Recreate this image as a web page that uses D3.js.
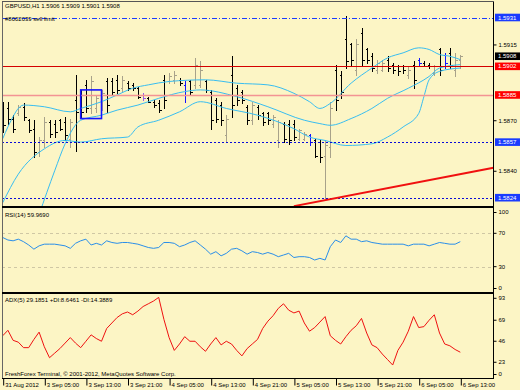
<!DOCTYPE html>
<html>
<head>
<meta charset="utf-8">
<script src="https://cdn.jsdelivr.net/npm/d3@7"></script>
<style>
  body { margin: 0; background: #fcf5c5; }
  svg text { font-family: "Liberation Sans", Arial, sans-serif; font-size: 6px; fill: #000; }
</style>
</head>
<body>
<svg id="chart" width="520" height="390"></svg>
<script>
// GBPUSD H1, one entry per hourly bar: 31 Aug 21:00 .. 6 Sep 13:00
const opens = [
  1.5877,1.5877,1.5871,1.5874,1.5878,1.5870,1.5865,1.5851,1.5858,1.5869,
  1.5868,1.5870,1.5869,1.5859,1.5882,1.5885,1.5891,1.5877,1.5877,1.5879,
  1.5893,1.5893,1.5894,1.5889,1.5892,1.5891,1.5889,1.5885,1.5883,1.5881,
  1.5880,1.5894,1.5893,1.5894,1.5894,1.5891,1.5893,1.5891,1.5891,1.5893,
  1.5887,1.5882,1.5879,1.5861,1.5897,1.5889,1.5887,1.5878,1.5870,1.5878,
  1.5874,1.5874,1.5868,1.5858,1.5868,1.5868,1.5868,1.5859,1.5859,1.5861,
  1.5858,1.5857,1.5849,1.5854,1.5900,1.5897,1.5918,1.5915,1.5900,1.5922,
  1.5912,1.5908,1.5900,1.5900,1.5906,1.5903,1.5902,1.5902,1.5897,1.5903,
  1.5906,1.5904,1.5903,1.5898,1.5912,1.5909,1.5910,1.5900,1.5906];
const highs = [
  1.5881,1.5881,1.5873,1.5879,1.5880,1.5871,1.5870,1.5860,1.5872,1.5870,
  1.5870,1.5871,1.5872,1.5871,1.5897,1.5888,1.5894,1.5896,1.5885,1.5888,
  1.5895,1.5895,1.5897,1.5896,1.5893,1.5892,1.5890,1.5886,1.5884,1.5882,
  1.5882,1.5897,1.5898,1.5899,1.5895,1.5893,1.5894,1.5907,1.5905,1.5894,
  1.5888,1.5883,1.5881,1.5873,1.5908,1.5891,1.5888,1.5879,1.5881,1.5879,
  1.5875,1.5875,1.5873,1.5870,1.5869,1.5870,1.5870,1.5865,1.5863,1.5862,
  1.5859,1.5858,1.5858,1.5881,1.5903,1.5899,1.5932,1.5916,1.5918,1.5925,
  1.5913,1.5910,1.5906,1.5906,1.5908,1.5904,1.5903,1.5903,1.5902,1.5905,
  1.5907,1.5905,1.5904,1.5903,1.5913,1.5910,1.5913,1.5910,1.5909];
const lows = [
  1.5863,1.5868,1.5863,1.5873,1.5870,1.5863,1.5848,1.5849,1.5854,1.5860,
  1.5860,1.5864,1.5858,1.5854,1.5852,1.5872,1.5875,1.5874,1.5875,1.5876,
  1.5875,1.5885,1.5886,1.5887,1.5888,1.5888,1.5883,1.5882,1.5881,1.5878,
  1.5875,1.5877,1.5892,1.5892,1.5891,1.5881,1.5885,1.5889,1.5890,1.5887,
  1.5865,1.5869,1.5867,1.5857,1.5872,1.5879,1.5880,1.5868,1.5868,1.5871,
  1.5867,1.5868,1.5866,1.5854,1.5857,1.5856,1.5858,1.5858,1.5858,1.5855,
  1.5848,1.5845,1.5824,1.5848,1.5876,1.5883,1.5901,1.5903,1.5897,1.5903,
  1.5904,1.5899,1.5898,1.5899,1.5899,1.5898,1.5897,1.5898,1.5895,1.5889,
  1.5903,1.5902,1.5901,1.5897,1.5897,1.5901,1.5901,1.5896,1.5901];
const closes = [
  1.5867,1.5871,1.5865,1.5878,1.5872,1.5864,1.5851,1.5858,1.5869,1.5862,
  1.5863,1.5865,1.5861,1.5869,1.5875,1.5875,1.5877,1.5893,1.5883,1.5886,
  1.5879,1.5887,1.5888,1.5894,1.5889,1.5889,1.5884,1.5883,1.5881,1.5879,
  1.5876,1.5882,1.5896,1.5897,1.5892,1.5885,1.5887,1.5903,1.5900,1.5888,
  1.5870,1.5871,1.5870,1.5871,1.5879,1.5882,1.5882,1.5870,1.5879,1.5873,
  1.5869,1.5870,1.5872,1.5869,1.5859,1.5858,1.5860,1.5864,1.5862,1.5857,
  1.5849,1.5848,1.5855,1.5877,1.5882,1.5887,1.5905,1.5906,1.5915,1.5906,
  1.5906,1.5901,1.5904,1.5904,1.5901,1.5900,1.5899,1.5900,1.5900,1.5894,
  1.5904,1.5902,1.5902,1.5902,1.5900,1.5904,1.5903,1.5906,1.5908];

// bars painted by trade marks
const blueBars = [35, 59, 80, 85];
const violetBars = [27];

// band lines, [bar index, price]
const upperBand = [[0,1.5859],[1,1.5866],[4,1.5879],[8,1.5878],[13,1.5875],[15,1.5877],[19,1.5881],
  [22,1.5885],[25,1.5889],[28,1.5891],[32,1.5893],[39,1.5894],[45,1.5892],[51,1.5891],[56,1.5886],
  [59,1.5881],[61,1.5877],[63,1.5880],[67,1.5892],[71,1.5901],[74,1.5907],[77,1.5910],[80,1.5913],
  [82,1.5912],[84,1.5909],[86,1.5908],[88,1.5906]];
const middleBand = [[7,1.5814],[10,1.5840],[12,1.5856],[15,1.5870],[19,1.5873],[22,1.5876],[26,1.5879],
  [30,1.5883],[35,1.5887],[38,1.5888],[45,1.5884],[51,1.5878],[58,1.5870],[61,1.5868],[63,1.5867],
  [67,1.5871],[71,1.5877],[74,1.5883],[78,1.5889],[82,1.5896],[84,1.5901],[88,1.5903]];
const lowerBand = [[0,1.5821],[3,1.5838],[8,1.5853],[12,1.5858],[15,1.5857],[19,1.5859],[24,1.5860],
  [26,1.5866],[30,1.5870],[34,1.5875],[38,1.5881],[43,1.5877],[49,1.5873],[56,1.5865],[59,1.5860],
  [62,1.5858],[66,1.5855],[71,1.5856],[74,1.5860],[77,1.5866],[80,1.5874],[81,1.5884],[82,1.5894],
  [84,1.5899],[88,1.5901]];

const rsi = [
  65,62,61,63,60,56,51,55,57,57,
  57,56,55,52,58,61,63,56,58,56,
  61,59,58,59,59,58,57,55,53,52,
  53,59,59,58,54,56,59,61,56,51,
  45,48,43,46,51,52,49,45,48,47,
  45,47,45,42,44,46,41,42,42,41,
  38,40,38,54,62,59,67,63,63,60,
  61,59,58,57,57,57,57,57,55,57,
  57,57,55,57,59,58,57,57,59.969];
const adx = [
  52,58,47,45,39,39,48,56,40,28,
  33,38,44,50,44,39,46,53,49,46,
  60,66,72,76,78,75,79,84,87,90,
  94,70,50,36,43,51,46,46,40,35,
  43,50,42,46,43,36,30,38,43,48,
  60,68,74,82,87,80,77,79,66,57,
  61,67,73,52,47,43,51,58,63,71,
  55,42,39,32,26,20,36,45,57,73,
  61,62,69,75,55,43,41,37,34];

const timeLabels = ["31 Aug 2012", "3 Sep 05:00", "3 Sep 13:00", "3 Sep 21:00", "4 Sep 05:00", "4 Sep 13:00",
  "4 Sep 21:00", "5 Sep 05:00", "5 Sep 13:00", "5 Sep 21:00", "6 Sep 05:00", "6 Sep 13:00"];
const priceTicks = [1.5825, 1.5840, 1.5855, 1.5870, 1.5885, 1.5900, 1.5915, 1.5930];
const rsiTicks = [100, 70, 30, 0];
const rsiLevels = [70, 30];
const adxTicks = [93, 69, 46, 23, 0];

// chart objects
const levelPrices = [1.5931, 1.5902, 1.5885, 1.5857, 1.5824];
const bidPrice = 1.5908;
const trendTimes = [56, 88], trendPrices = [1.5819, 1.5838];
const boxTimes = [15, 19], boxPrices = [1.5888, 1.5871];

const title = "GBPUSD,H1  1.5906 1.5909 1.5901 1.5908";
const orderText = "#8002039 sell limit";
const rsiTitle = "RSI(14) 59.9690";
const adxTitle = "ADX(5) 29.1851 +DI:8.6461 -DI:14.3889";
const footer = "FreshForex Terminal, \u00a9 2001-2012, MetaQuotes Software Corp.";

// ---------------------------------------------------------------
const svg = d3.select("#chart");
const left = 2, right = 493.5;
const mainTop = 1.5, mainBottom = 207;
const rsiTop = 208, rsiBottom = 292.5;
const adxTop = 293.5, adxBottom = 378.5;

svg.append("rect").attr("width", 520).attr("height", 390).attr("fill", "#fcf5c5");

const x = d3.scaleLinear().domain([0, 88]).range([2.7, 460.3]);
const y = d3.scaleLinear().domain([1.5824, 1.5931]).range([197.7, 17.5]);
const yRsi = d3.scaleLinear().domain([0, 100]).range([291.7, 208.3]);
const yAdx = d3.scaleLinear().domain([0, 93]).range([383.3, 298.3]);
const crisp = v => Math.round(v) + 0.5;

const defs = svg.append("defs");
[["clipMain", mainTop, mainBottom], ["clipRsi", rsiTop, rsiBottom], ["clipAdx", adxTop, adxBottom]]
  .forEach(([id, t, b]) => defs.append("clipPath").attr("id", id)
    .append("rect").attr("x", left).attr("y", t).attr("width", right - left).attr("height", b - t));

const gMain = svg.append("g").attr("clip-path", "url(#clipMain)");

// OHLC bars
const bars = opens.map((o, i) => ({ i, o, h: highs[i], l: lows[i], c: closes[i] }));
const barColor = d => blueBars.includes(d.i) ? "#1414ff"
  : violetBars.includes(d.i) ? "#9a5ae6"
  : d.c > d.o ? "#a8a28a" : "#000";

gMain.append("g")
  .selectAll("path")
  .data(bars)
  .join("path")
    .attr("d", d => {
      const cx = crisp(x(d.i));
      return `M${cx},${Math.round(y(d.h))}V${Math.round(y(d.l)) + 1}` +
        `M${cx - 2},${crisp(y(d.o))}H${cx}M${cx},${crisp(y(d.c))}H${cx + 2}`;
    })
    .attr("fill", "none")
    .attr("stroke", barColor)
    .attr("stroke-width", 1)
    .attr("shape-rendering", "crispEdges");

// bands
const bandLine = d3.line().x(d => x(d[0])).y(d => y(d[1])).curve(d3.curveMonotoneX);
gMain.append("g")
  .selectAll("path")
  .data([upperBand, middleBand, lowerBand])
  .join("path")
    .attr("d", bandLine)
    .attr("fill", "none")
    .attr("stroke", "#38bdf0")
    .attr("stroke-width", 1);

// horizontal levels
const levelLook = [
  { stroke: "#1a3cff", dash: "5,2,1,2", width: 1.2, box: "#1a3cff" },
  { stroke: "#d40000", dash: null, width: 1, box: "#ff0000" },
  { stroke: "#f39494", dash: null, width: 1.5, box: "#ff0000" },
  { stroke: "#0a0ad8", dash: "2,2", width: 1, box: "#1a3cff" },
  { stroke: "#0a0ad8", dash: "2,2", width: 1, box: "#1a3cff" }
];
gMain.append("g")
  .selectAll("line")
  .data(levelPrices)
  .join("line")
    .attr("x1", left).attr("x2", right)
    .attr("y1", d => crisp(y(d))).attr("y2", d => crisp(y(d)))
    .attr("stroke", (d, k) => levelLook[k].stroke)
    .attr("stroke-width", (d, k) => levelLook[k].width)
    .attr("stroke-dasharray", (d, k) => levelLook[k].dash);

// rectangle object
gMain.append("rect")
  .attr("x", x(boxTimes[0])).attr("y", y(boxPrices[0]))
  .attr("width", x(boxTimes[1]) - x(boxTimes[0]))
  .attr("height", y(boxPrices[1]) - y(boxPrices[0]))
  .attr("fill", "none").attr("stroke", "#1414ff").attr("stroke-width", 1.6);

// trend ray, extended to the right edge
const slope = (trendPrices[1] - trendPrices[0]) / (trendTimes[1] - trendTimes[0]);
const endTime = x.invert(right);
gMain.append("line")
  .attr("x1", x(trendTimes[0])).attr("y1", y(trendPrices[0]))
  .attr("x2", x(endTime)).attr("y2", y(trendPrices[0] + slope * (endTime - trendTimes[0])))
  .attr("stroke", "#f01010").attr("stroke-width", 2);

// RSI panel
const gRsi = svg.append("g").attr("clip-path", "url(#clipRsi)");
gRsi.selectAll("line.lvl")
  .data(rsiLevels)
  .join("line")
    .attr("class", "lvl")
    .attr("x1", left).attr("x2", right)
    .attr("y1", d => crisp(yRsi(d))).attr("y2", d => crisp(yRsi(d)))
    .attr("stroke", "#cfc7a4").attr("stroke-dasharray", "3,3");
gRsi.append("path")
  .datum(rsi)
  .attr("d", d3.line().x((d, i) => x(i)).y(d => yRsi(d)))
  .attr("fill", "none").attr("stroke", "#2a8ee8").attr("stroke-width", 1);

// ADX panel
const gAdx = svg.append("g").attr("clip-path", "url(#clipAdx)");
gAdx.append("path")
  .datum(adx)
  .attr("d", d3.line().x((d, i) => x(i)).y(d => yAdx(d)))
  .attr("fill", "none").attr("stroke", "#ee1111").attr("stroke-width", 1);

// frames
const frame = svg.append("g").attr("stroke", "#000").attr("shape-rendering", "crispEdges");
frame.append("line").attr("x1", left).attr("x2", right).attr("y1", mainTop).attr("y2", mainTop).attr("stroke", "#555");
frame.append("line").attr("x1", left).attr("x2", left).attr("y1", mainTop).attr("y2", adxBottom).attr("stroke", "#666");
frame.append("line").attr("x1", right).attr("x2", right).attr("y1", mainTop).attr("y2", adxBottom);
frame.selectAll("line.sep")
  .data([mainBottom, rsiBottom])
  .join("line")
    .attr("class", "sep")
    .attr("x1", left).attr("x2", right).attr("y1", d => d).attr("y2", d => d)
    .attr("stroke-width", 2);
frame.append("line").attr("x1", left).attr("x2", right).attr("y1", adxBottom).attr("y2", adxBottom);

// price axis: the coloured price boxes hide the ticks they sit on
const styleAxis = g => {
  g.select(".domain").remove();
  g.selectAll("line").attr("stroke", "#000");
  g.selectAll("text").attr("font-size", 6).attr("font-family", '"Liberation Sans", Arial, sans-serif');
};
const boxedPrices = levelPrices.concat([bidPrice]);
const freeTicks = priceTicks.filter(t => boxedPrices.every(p => Math.abs(y(p) - y(t)) > 8));
svg.append("g")
  .attr("transform", `translate(${right},0)`)
  .call(d3.axisRight(y).tickValues(freeTicks).tickFormat(d3.format(".4f")).tickSize(3).tickPadding(2))
  .call(styleAxis);

// price boxes for levels and bid
const boxes = levelPrices.map((p, k) => ({ p, fill: levelLook[k].box }))
  .concat([{ p: bidPrice, fill: "#000" }]);
const gBox = svg.append("g")
  .selectAll("g")
  .data(boxes)
  .join("g")
    .attr("transform", d => `translate(495,${y(d.p)})`);
gBox.append("rect")
  .attr("x", 0).attr("y", -3.8).attr("width", 25).attr("height", 7.6)
  .attr("fill", d => d.fill);
gBox.append("text")
  .attr("x", 3).attr("y", 2.1)
  .style("fill", "#fff")
  .text(d => d3.format(".4f")(d.p));

// indicator axes, top and bottom labels kept inside the panel
const clampTicks = (g, scale, top, bottom) => g.selectAll(".tick")
  .attr("transform", d => `translate(0,${Math.max(top + 4.5, Math.min(bottom - 4, scale(d)))})`);
svg.append("g")
  .attr("transform", `translate(${right},0)`)
  .call(d3.axisRight(yRsi).tickValues(rsiTicks).tickSize(3).tickPadding(2))
  .call(styleAxis)
  .call(g => clampTicks(g, yRsi, rsiTop, rsiBottom));
svg.append("g")
  .attr("transform", `translate(${right},0)`)
  .call(d3.axisRight(yAdx).tickValues(adxTicks).tickSize(3).tickPadding(2))
  .call(styleAxis)
  .call(g => clampTicks(g, yAdx, adxTop, adxBottom));

// time axis
svg.append("g")
  .attr("transform", `translate(0,${adxBottom})`)
  .call(d3.axisBottom(x)
    .tickValues(timeLabels.map((t, k) => k * 8))
    .tickFormat((d, k) => timeLabels[k])
    .tickSize(7))
  .call(styleAxis)
  .call(g => g.selectAll(".tick line").attr("transform", "translate(0.5,0)"))
  .call(g => g.selectAll("text").attr("text-anchor", "start").attr("x", 2).attr("y", 8.2).attr("dy", 0));

// captions
const captions = [
  [title, 5, 8.3],
  [orderText, 5, 21],
  [rsiTitle, 5, 216.7],
  [adxTitle, 5, 302.3],
  [footer, 5, 376.3]
];
svg.append("g")
  .selectAll("text")
  .data(captions)
  .join("text")
    .attr("x", d => d[1]).attr("y", d => d[2])
    .text(d => d[0]);
</script>
</body>
</html>
